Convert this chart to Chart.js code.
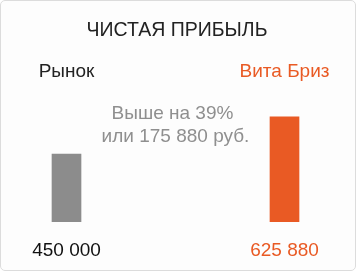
<!DOCTYPE html>
<html>
<head>
<meta charset="utf-8">
<script src="https://cdn.jsdelivr.net/npm/chart.js@4"></script>
<style>
  body { margin: 0; background: #ffffff; }
  #box {
    width: 354px; height: 269px;
    border: 1px solid #dcdcdc; border-radius: 5px;
    background: #fdfdfd; position: relative;
  }
</style>
</head>
<body>
<div id="box"><canvas id="chart"></canvas></div>
<script>
// Data
const title = 'ЧИСТАЯ ПРИБЫЛЬ';
const categories = ['Рынок', 'Вита Бриз'];
const profit = [450000, 625880];
const valueLabels = ['450 000', '625 880'];
const noteLines = ['Выше на 39%', 'или 175 880 руб.'];

const barColors = ['#8c8c8c', '#e95a24'];
const labelColors = ['#222222', '#e95a24'];
const valueColors = ['#111111', '#e95a24'];
const FONT = '"Liberation Sans", Arial, sans-serif';

// texts: title, names above bars, values below, note in the middle
const textPlugin = {
  id: 'texts',
  afterDraw(chart) {
    const ctx = chart.ctx;
    const x = chart.scales.x;
    ctx.save();
    ctx.textAlign = 'center';
    ctx.textBaseline = 'alphabetic';

    ctx.font = '19.5px ' + FONT;
    ctx.fillStyle = '#222222';
    ctx.fillText(title, 176, 35);

    ctx.font = '19px ' + FONT;
    categories.forEach((c, i) => {
      const px = x.getPixelForValue(i);
      ctx.fillStyle = labelColors[i];
      ctx.fillText(c, px, 76);
      ctx.fillStyle = valueColors[i];
      ctx.fillText(valueLabels[i], px, 255);
    });

    ctx.fillStyle = '#8f8f8f';
    ctx.fillText(noteLines[0], 171.5, 118);
    ctx.fillText(noteLines[1], 174.5, 140.5);
    ctx.restore();
  }
};

new Chart(document.getElementById('chart'), {
  type: 'bar',
  data: {
    labels: categories,
    datasets: [{
      data: profit,
      backgroundColor: barColors,
      barThickness: 29,
      // bars sit on the category edges, so only clip at the bottom
      clip: { left: false, right: false, top: false, bottom: 0 }
    }]
  },
  options: {
    responsive: true,
    maintainAspectRatio: false,
    animation: false,
    layout: { padding: { left: 65.5, right: 70.5, top: 90, bottom: 48 } },
    plugins: {
      legend: { display: false },
      tooltip: { enabled: false }
    },
    scales: {
      x: { display: false, offset: false },
      y: { display: false, min: 127000, max: 749000 }
    }
  },
  plugins: [textPlugin]
});
</script>
</body>
</html>
